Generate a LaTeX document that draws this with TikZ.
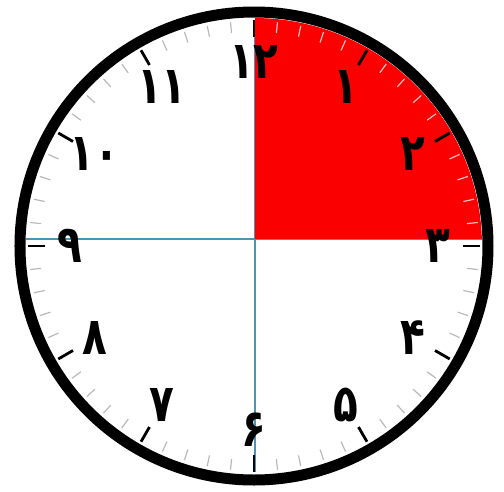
\documentclass[tikz,border=0pt]{standalone}
\usepackage{fontspec}
\newfontfamily\persianfont[Script=Arabic]{DejaVu Sans}
\definecolor{dialblue}{RGB}{70,150,185}
\definecolor{dialred}{RGB}{250,0,0}
\newcommand{\dialnum}[1]{\scalebox{0.78}[1]{#1}}
\tikzset{
  hournum/.style={font=\persianfont\bfseries\fontsize{52}{52}\selectfont, inner sep=0pt},
  minutetick/.style={line width=1.2pt, gray!55},
  hourtick/.style={line width=2.8pt, black}
}
\begin{document}
\begin{tikzpicture}[x=1pt,y=1pt]
  \useasboundingbox (-254,-245) rectangle (250,246);
  % cross of the dial
  \draw[dialblue, line width=2.6pt] (-228,7) -- (228,7);
  \draw[dialblue, line width=2.6pt] (1,226) -- (1,-226);
  % the first quarter hour
  \begin{scope}
    \clip (0,0) circle (228);
    \fill[dialred] (1,7) rectangle (240,240);
  \end{scope}
  % minute ticks
  \foreach \m in {0,...,59} {
    \pgfmathsetmacro{\a}{90-6*\m}
    \ifnum\m<16
      \draw[minutetick, red!25!white] (\a:214) -- (\a:225);
    \else
      \draw[minutetick] (\a:214) -- (\a:225);
    \fi
  }
  % hour ticks
  \foreach \h in {1,...,12}
    \draw[hourtick] (90-30*\h:209) -- (90-30*\h:226);
  % numerals
  \foreach \h/\txt in {1/۱,2/۲,3/۳,4/۴,5/۵,6/۶,7/۷,8/۸,9/۹,10/۱۰,11/۱۱,12/۱۲}
    \node[hournum] (h\h) at (90-30*\h:184) {\dialnum{\txt}};
  % rim
  \draw[line width=11pt] (0,0) circle (234);
\end{tikzpicture}
\end{document}
